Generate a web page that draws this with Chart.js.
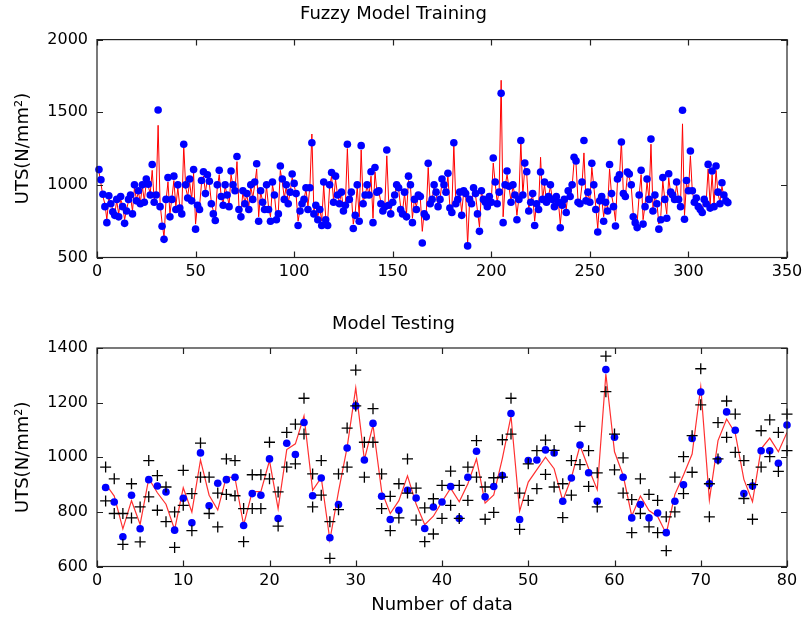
<!DOCTYPE html>
<html>
<head>
<meta charset="utf-8">
<script src="https://cdn.jsdelivr.net/npm/chart.js@4"></script>
<style>
html, body { margin: 0; padding: 0; background: #fff; }
canvas { position: absolute; left: 0; }
#trainChart { top: 0; }
#testChart { top: 310px; }
</style>
</head>
<body>
<canvas id="trainChart" width="808" height="310"></canvas>
<canvas id="testChart" width="808" height="311"></canvas>
<script>
// training data, samples 1..320
const trainMeasured = [
  1105, 1035, 935, 850, 740, 925, 870, 815, 790, 900, 780, 920, 850, 735, 820, 900, 930, 800, 1000, 890,
  960, 870, 1000, 880, 1040, 1005, 930, 1140, 880, 930, 1515, 850, 715, 625, 900, 1050, 780, 900, 1060, 830,
  1000, 840, 800, 1280, 1000, 910, 1040, 890, 1105, 695, 860, 830, 1030, 1090, 940, 1070, 1025, 870, 800, 755,
  1000, 1100, 920, 860, 1000, 930, 850, 1095, 1000, 960, 1195, 830, 780, 960, 870, 940, 830, 1000, 900, 1020,
  1145, 750, 960, 880, 830, 1000, 830, 750, 1020, 930, 760, 800, 1130, 1040, 900, 1000, 870, 950, 1075, 1010,
  940, 720, 820, 870, 900, 980, 830, 980, 1290, 800, 860, 760, 830, 720, 1020, 760, 720, 1000, 1085, 880,
  1060, 930, 870, 950, 820, 860, 1280, 900, 950, 700, 790, 1000, 750, 1270, 870, 930, 1000, 930, 1090, 740,
  1120, 950, 960, 870, 820, 850, 1240, 860, 800, 880, 930, 1000, 980, 830, 800, 950, 780, 1060, 1000, 740,
  900, 830, 930, 920, 600, 800, 780, 1148, 870, 900, 1000, 950, 850, 900, 1040, 1000, 950, 1080, 840, 810,
  1290, 870, 900, 950, 790, 960, 940, 580, 900, 870, 980, 940, 800, 680, 960, 900, 880, 850, 920, 880,
  1185, 1020, 870, 950, 1630, 740, 1000, 1095, 990, 880, 1000, 930, 760, 900, 1305, 930, 1150, 1090, 820, 880,
  940, 720, 870, 830, 1089, 900, 1020, 880, 920, 1000, 900, 850, 920, 880, 705, 860, 900, 810, 960, 920,
  1000, 1190, 1165, 880, 870, 1020, 1305, 890, 950, 880, 1148, 1000, 830, 676, 890, 920, 750, 880, 820, 1140,
  940, 850, 717, 1040, 1070, 1295, 940, 920, 1089, 1075, 1000, 780, 740, 706, 930, 1100, 730, 850, 1040, 900,
  1315, 820, 930, 870, 695, 760, 1050, 900, 770, 1077, 950, 930, 900, 1020, 900, 850, 1514, 763, 1030, 960,
  1233, 960, 880, 910, 850, 830, 810, 900, 870, 1141, 840, 1095, 850, 1130, 950, 870, 1015, 930, 890, 878
];
const trainModel = [
  1090, 1010, 920, 870, 760, 910, 880, 830, 800, 890, 800, 900, 860, 760, 830, 890, 920, 820, 980, 900,
  950, 880, 990, 890, 1020, 990, 940, 1100, 900, 940, 1410, 870, 740, 640, 890, 1020, 800, 910, 1030, 850,
  980, 850, 820, 1270, 980, 920, 1020, 900, 1080, 730, 870, 850, 1010, 1060, 950, 1040, 1010, 880, 820, 780,
  980, 1070, 920, 870, 990, 930, 860, 1070, 990, 960, 1160, 850, 800, 950, 880, 930, 850, 990, 910, 1000,
  1110, 780, 950, 890, 850, 990, 850, 780, 1000, 930, 790, 820, 1100, 1020, 910, 990, 880, 950, 1050, 1000,
  930, 750, 830, 880, 900, 970, 850, 990, 1350, 820, 870, 780, 840, 750, 1000, 780, 750, 990, 1060, 890,
  1040, 930, 880, 940, 840, 870, 1250, 910, 940, 730, 810, 990, 780, 1240, 880, 930, 990, 930, 1060, 770,
  1090, 950, 950, 880, 840, 860, 1200, 870, 820, 890, 930, 990, 970, 850, 820, 940, 800, 1030, 990, 770,
  900, 850, 920, 910, 680, 820, 800, 1120, 880, 900, 990, 940, 860, 900, 1020, 990, 950, 1060, 850, 830,
  1280, 880, 900, 940, 810, 950, 930, 590, 890, 880, 970, 930, 820, 710, 950, 900, 880, 860, 920, 890,
  1150, 1010, 880, 960, 1720, 780, 990, 1070, 980, 890, 990, 930, 790, 910, 1300, 930, 1120, 1070, 840, 890,
  930, 750, 880, 850, 1190, 900, 1000, 890, 920, 990, 900, 860, 920, 890, 730, 870, 900, 830, 950, 920,
  990, 1160, 1140, 890, 880, 1000, 1220, 900, 940, 890, 1120, 990, 850, 700, 890, 910, 780, 880, 840, 1110,
  930, 860, 750, 1020, 1050, 1300, 940, 920, 1060, 1050, 990, 800, 770, 740, 930, 1070, 760, 860, 1020, 900,
  1280, 840, 920, 880, 730, 790, 1030, 900, 800, 1050, 940, 930, 900, 1000, 900, 860, 1420, 790, 1010, 950,
  1200, 950, 890, 900, 860, 850, 830, 900, 880, 1110, 860, 1070, 860, 1100, 940, 880, 990, 920, 880, 880
];

// testing data, samples 1..80
const testMeasured = [
  889, 836, 709, 861, 738, 918, 895, 873, 733, 850, 760, 1016, 822, 905, 918, 927, 750, 867, 861, 994,
  776, 1051, 1010, 1127, 859, 924, 705, 827, 1034, 1188, 990, 1124, 857, 772, 806, 879, 851, 739, 818, 836,
  893, 776, 927, 1022, 855, 893, 933, 1160, 772, 988, 990, 1027, 1016, 839, 924, 1045, 943, 839, 1321, 1073,
  927, 778, 827, 778, 796, 724, 839, 899, 1069, 1239, 903, 990, 1166, 1099, 867, 895, 1024, 1024, 978, 1118
];
const testModel = [
  902, 858, 738, 841, 754, 922, 870, 828, 735, 888, 799, 990, 861, 807, 929, 924, 752, 874, 874, 988,
  811, 1028, 1049, 1151, 879, 925, 697, 874, 1036, 1254, 991, 1117, 876, 794, 841, 932, 829, 753, 784, 837,
  887, 837, 903, 994, 832, 862, 996, 1151, 803, 909, 955, 1000, 958, 841, 925, 1043, 959, 881, 1305, 1020,
  934, 785, 858, 805, 783, 720, 864, 935, 1012, 1258, 843, 1061, 1140, 1088, 919, 837, 1031, 1070, 1020, 1091
];
const testUpper = [
  964, 921, 794, 903, 818, 988, 933, 891, 800, 952, 867, 1052, 927, 869, 994, 988, 812, 936, 936, 1055,
  873, 1091, 1121, 1216, 939, 988, 764, 939, 1107, 1319, 1055, 1178, 939, 857, 903, 994, 887, 815, 848, 897,
  949, 897, 964, 1061, 891, 925, 1064, 1216, 869, 976, 1024, 1063, 1025, 903, 988, 1113, 1024, 943, 1370, 1085,
  998, 845, 921, 864, 842, 782, 927, 1002, 1079, 1324, 903, 1127, 1206, 1158, 988, 900, 1097, 1137, 1091, 1158
];
const testLower = [
  840, 794, 681, 778, 690, 855, 806, 764, 670, 824, 731, 927, 794, 745, 864, 859, 691, 812, 812, 921,
  748, 964, 976, 1085, 818, 861, 630, 808, 964, 1188, 927, 1055, 812, 731, 778, 869, 770, 691, 719, 776,
  824, 776, 842, 927, 773, 798, 927, 1085, 736, 842, 885, 937, 891, 779, 861, 973, 893, 818, 1240, 954,
  869, 724, 794, 745, 724, 658, 800, 867, 945, 1192, 782, 994, 1073, 1018, 849, 773, 964, 1002, 948, 1024
];

const trainTicksX = [0, 50, 100, 150, 200, 250, 300, 350];
const trainTicksY = [500, 1000, 1500, 2000];
const testTicksX = [0, 10, 20, 30, 40, 50, 60, 70, 80];
const testTicksY = [600, 800, 1000, 1200, 1400];

const FONT = 'DejaVu Sans, Liberation Sans, Arial, sans-serif';

function pts(arr) {
  return arr.map((v, i) => ({ x: i + 1, y: v }));
}

// matlab-like frame with inward ticks on all four sides
const boxTicks = {
  id: 'boxTicks',
  afterDatasetsDraw(chart) {
    const { ctx, chartArea: a, scales: { x, y } } = chart;
    ctx.save();
    ctx.strokeStyle = '#222';
    ctx.lineWidth = 1.2;
    ctx.beginPath();
    x.ticks.forEach(t => {
      const px = Math.round(x.getPixelForValue(t.value)) + 0.5;
      ctx.moveTo(px, a.bottom); ctx.lineTo(px, a.bottom - 6);
      ctx.moveTo(px, a.top); ctx.lineTo(px, a.top + 6);
    });
    y.ticks.forEach(t => {
      const py = Math.round(y.getPixelForValue(t.value)) + 0.5;
      ctx.moveTo(a.left, py); ctx.lineTo(a.left + 6, py);
      ctx.moveTo(a.right, py); ctx.lineTo(a.right - 6, py);
    });
    ctx.stroke();
    ctx.strokeRect(a.left, a.top, a.right - a.left, a.bottom - a.top);
    ctx.restore();
  }
};

function makeScales(xTicks, yTicks, xHeight, xTitle) {
  return {
    x: {
      type: 'linear',
      min: xTicks[0],
      max: xTicks[xTicks.length - 1],
      afterBuildTicks: s => { s.ticks = xTicks.map(v => ({ value: v })); },
      ticks: { color: '#000', padding: 5, font: { family: FONT, size: 16 }, callback: v => String(v) },
      grid: { display: false, drawTicks: false },
      border: { display: false },
      title: {
        display: !!xTitle,
        text: xTitle || '',
        color: '#000',
        font: { family: FONT, size: 18 },
        padding: { top: 0, bottom: 5 }
      },
      afterFit: s => { s.height = xHeight; }
    },
    y: {
      type: 'linear',
      min: yTicks[0],
      max: yTicks[yTicks.length - 1],
      afterBuildTicks: s => { s.ticks = yTicks.map(v => ({ value: v })); },
      ticks: { color: '#000', padding: 9, font: { family: FONT, size: 16 }, callback: v => String(v) },
      grid: { display: false, drawTicks: false },
      border: { display: false },
      title: {
        display: true,
        text: 'UTS(N/mm²)',
        color: '#000',
        font: { family: FONT, size: 18 },
        padding: { top: 13, bottom: 0 }
      },
      afterFit: s => { s.width = 97; }
    }
  };
}

function baseOptions(title, titleBottom, scales) {
  return {
    responsive: false,
    animation: false,
    events: [],
    layout: { padding: { left: 0, right: 21, top: 0, bottom: 0 } },
    plugins: {
      legend: { display: false },
      tooltip: { enabled: false },
      title: {
        display: true,
        text: title,
        color: '#000',
        font: { family: FONT, size: 18, weight: 'normal' },
        padding: { top: 4, bottom: titleBottom }
      }
    },
    scales: scales
  };
}

new Chart(document.getElementById('trainChart'), {
  type: 'scatter',
  data: {
    datasets: [
      {
        label: 'measured',
        data: pts(trainMeasured),
        showLine: false,
        pointRadius: 3.8,
        pointBackgroundColor: '#0000ff',
        pointBorderColor: '#0000ff',
        pointBorderWidth: 0,
        order: 1,
        clip: false
      },
      {
        label: 'model',
        data: pts(trainModel),
        showLine: true,
        borderColor: '#ff0000',
        borderWidth: 1,
        pointRadius: 0,
        tension: 0,
        order: 2
      }
    ]
  },
  options: baseOptions('Fuzzy Model Training', 14, makeScales(trainTicksX, trainTicksY, 52.5, null)),
  plugins: [boxTicks]
});

new Chart(document.getElementById('testChart'), {
  type: 'scatter',
  data: {
    datasets: [
      {
        label: 'upper',
        data: pts(testUpper),
        showLine: false,
        pointStyle: 'cross',
        pointRadius: 5.5,
        pointBorderColor: '#000',
        pointBorderWidth: 1.3,
        order: 0,
        clip: false
      },
      {
        label: 'lower',
        data: pts(testLower),
        showLine: false,
        pointStyle: 'cross',
        pointRadius: 5.5,
        pointBorderColor: '#000',
        pointBorderWidth: 1.3,
        order: 0,
        clip: false
      },
      {
        label: 'measured',
        data: pts(testMeasured),
        showLine: false,
        pointRadius: 3.8,
        pointBackgroundColor: '#0000ff',
        pointBorderColor: '#0000ff',
        pointBorderWidth: 0,
        order: 1,
        clip: false
      },
      {
        label: 'model',
        data: pts(testModel),
        showLine: true,
        borderColor: '#ff3030',
        borderWidth: 1.2,
        pointRadius: 0,
        tension: 0,
        order: 2
      }
    ]
  },
  options: baseOptions('Model Testing', 12.4, makeScales(testTicksX, testTicksY, 54.5, 'Number of data')),
  plugins: [boxTicks]
});
</script>
</body>
</html>
